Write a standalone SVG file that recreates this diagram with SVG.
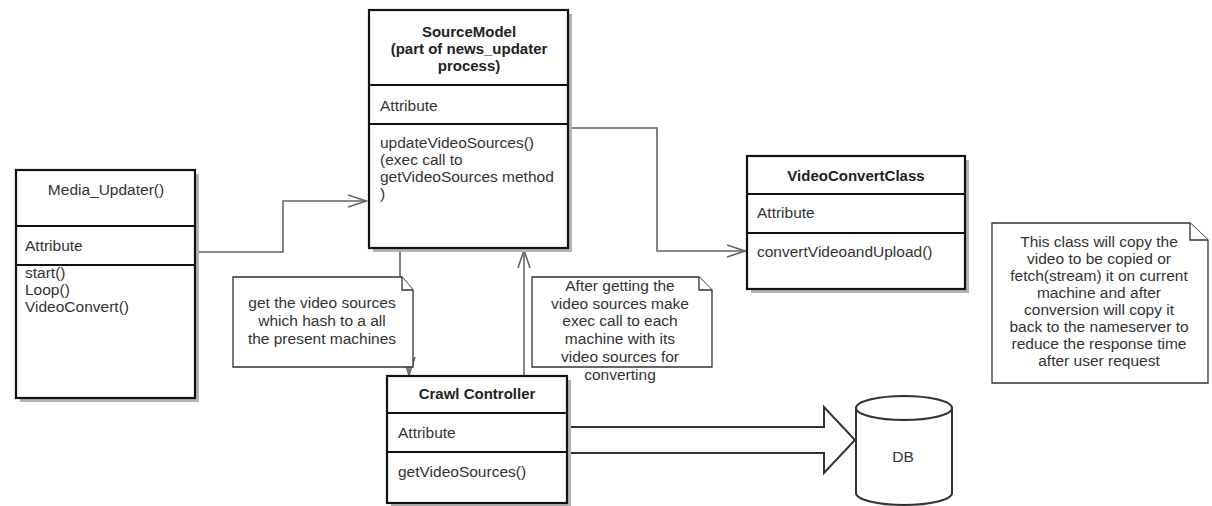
<svg xmlns="http://www.w3.org/2000/svg" width="1212" height="506" viewBox="0 0 1212 506">
<style>
.box{fill:#fff;stroke:#111;stroke-width:2.2}
.sh{fill:#b4b4b4}
.div{stroke:#111;stroke-width:2.2}
.t{font-family:"Liberation Sans",Arial,sans-serif;font-size:15.5px;fill:#333}
.b{font-family:"Liberation Sans",Arial,sans-serif;font-size:15px;font-weight:bold;fill:#222}
.c{text-anchor:middle}
.con{fill:none;stroke:#666;stroke-width:1.6}
.note{fill:#fff;stroke:#333;stroke-width:1.3}
.shape{fill:#fff;stroke:#333;stroke-width:2}
</style>
<defs>
<marker id="open" markerUnits="userSpaceOnUse" markerWidth="20" markerHeight="14" refX="18" refY="7" orient="auto">
<path d="M0,1 L18,7 L0,13" fill="none" stroke="#666" stroke-width="1.6"/>
</marker>
</defs>
<rect width="1212" height="506" fill="#fff"/>
<g id="connectors">
<path class="con" d="M198,252 H283 V201 H366" marker-end="url(#open)"/>
<path class="con" d="M568,128 H657 V251 H745" marker-end="url(#open)"/>
<path class="con" d="M400,249 V320 H409 V375" marker-end="url(#open)"/>
<path class="con" d="M524,376 V250" marker-end="url(#open)"/>
<polygon class="shape" points="567,427 824,427 824,407 855,440 824,473 824,453 567,453"/>
</g>
<g id="media_updater">
<rect class="sh" x="20" y="174" width="179" height="228"/>
<rect class="box" x="16" y="170" width="179" height="228"/>
<line class="div" x1="16" y1="226" x2="195" y2="226"/>
<line class="div" x1="16" y1="265" x2="195" y2="265"/>
<text class="t c" x="106" y="195">Media_Updater()</text>
<text class="t" x="25" y="251">Attribute</text>
<text class="t" x="25" y="278">start()</text>
<text class="t" x="25" y="295">Loop()</text>
<text class="t" x="25" y="312">VideoConvert()</text>
</g>
<g id="source_model">
<rect class="sh" x="373" y="14" width="199" height="238"/>
<rect class="box" x="369" y="10" width="199" height="238"/>
<line class="div" x1="369" y1="85" x2="568" y2="85"/>
<line class="div" x1="369" y1="124" x2="568" y2="124"/>
<text class="b c" x="469" y="37">SourceModel</text>
<text class="b c" x="469" y="54">(part of news_updater</text>
<text class="b c" x="469" y="71">process)</text>
<text class="t" x="380" y="111">Attribute</text>
<text class="t" x="380" y="148">updateVideoSources()</text>
<text class="t" x="380" y="165">(exec call to</text>
<text class="t" x="380" y="182">getVideoSources method</text>
<text class="t" x="380" y="199">)</text>
</g>
<g id="video_convert_class">
<rect class="sh" x="751" y="160" width="218" height="133"/>
<rect class="box" x="747" y="156" width="218" height="133"/>
<line class="div" x1="747" y1="194" x2="965" y2="194"/>
<line class="div" x1="747" y1="233" x2="965" y2="233"/>
<text class="b c" x="856" y="181">VideoConvertClass</text>
<text class="t" x="757" y="218">Attribute</text>
<text class="t" x="757" y="257">convertVideoandUpload()</text>
</g>
<g id="note_get_sources">
<path class="note" d="M233,277 H402 L413,290 V367 H233 Z"/>
<path class="note" d="M402,277 V290 H413" fill="none"/>
<text class="t c" x="322" y="308">get the video sources</text>
<text class="t c" x="322" y="326">which hash to a all</text>
<text class="t c" x="322" y="344">the present machines</text>
</g>
<g id="note_after_getting">
<path class="note" d="M532,277 H699 L712,290 V367 H532 Z"/>
<path class="note" d="M699,277 V290 H712" fill="none"/>
<text class="t c" x="620" y="291">After getting the</text>
<text class="t c" x="620" y="309">video sources make</text>
<text class="t c" x="620" y="326">exec call to each</text>
<text class="t c" x="620" y="344">machine with its</text>
<text class="t c" x="620" y="362">video sources for</text>
<text class="t c" x="620" y="380">converting</text>
</g>
<g id="crawl_controller">
<rect class="sh" x="391" y="380" width="180" height="127"/>
<rect class="box" x="387" y="376" width="180" height="127"/>
<line class="div" x1="387" y1="413" x2="567" y2="413"/>
<line class="div" x1="387" y1="452" x2="567" y2="452"/>
<text class="b c" x="477" y="399">Crawl Controller</text>
<text class="t" x="398" y="438">Attribute</text>
<text class="t" x="398" y="477">getVideoSources()</text>
</g>
<g id="note_video_convert">
<path class="note" d="M992,223 H1190 L1208,240 V383 H992 Z"/>
<path class="note" d="M1190,223 V240 H1208" fill="none"/>
<text class="t c" x="1099" y="247">This class will copy the</text>
<text class="t c" x="1099" y="264">video to be copied or</text>
<text class="t c" x="1099" y="281">fetch(stream) it on current</text>
<text class="t c" x="1099" y="298">machine and after</text>
<text class="t c" x="1099" y="315">conversion will copy it</text>
<text class="t c" x="1099" y="332">back to the nameserver to</text>
<text class="t c" x="1099" y="349">reduce the response time</text>
<text class="t c" x="1099" y="366">after user request</text>
</g>
<g id="db">
<path class="shape" d="M856,408 V493 A48,12 0 0 0 952,493 V408 A48,12 0 0 0 856,408 Z"/>
<path class="shape" d="M856,408 A48,12 0 0 0 952,408" fill="none"/>
<text class="t c" x="903" y="462">DB</text>
</g>
</svg>
